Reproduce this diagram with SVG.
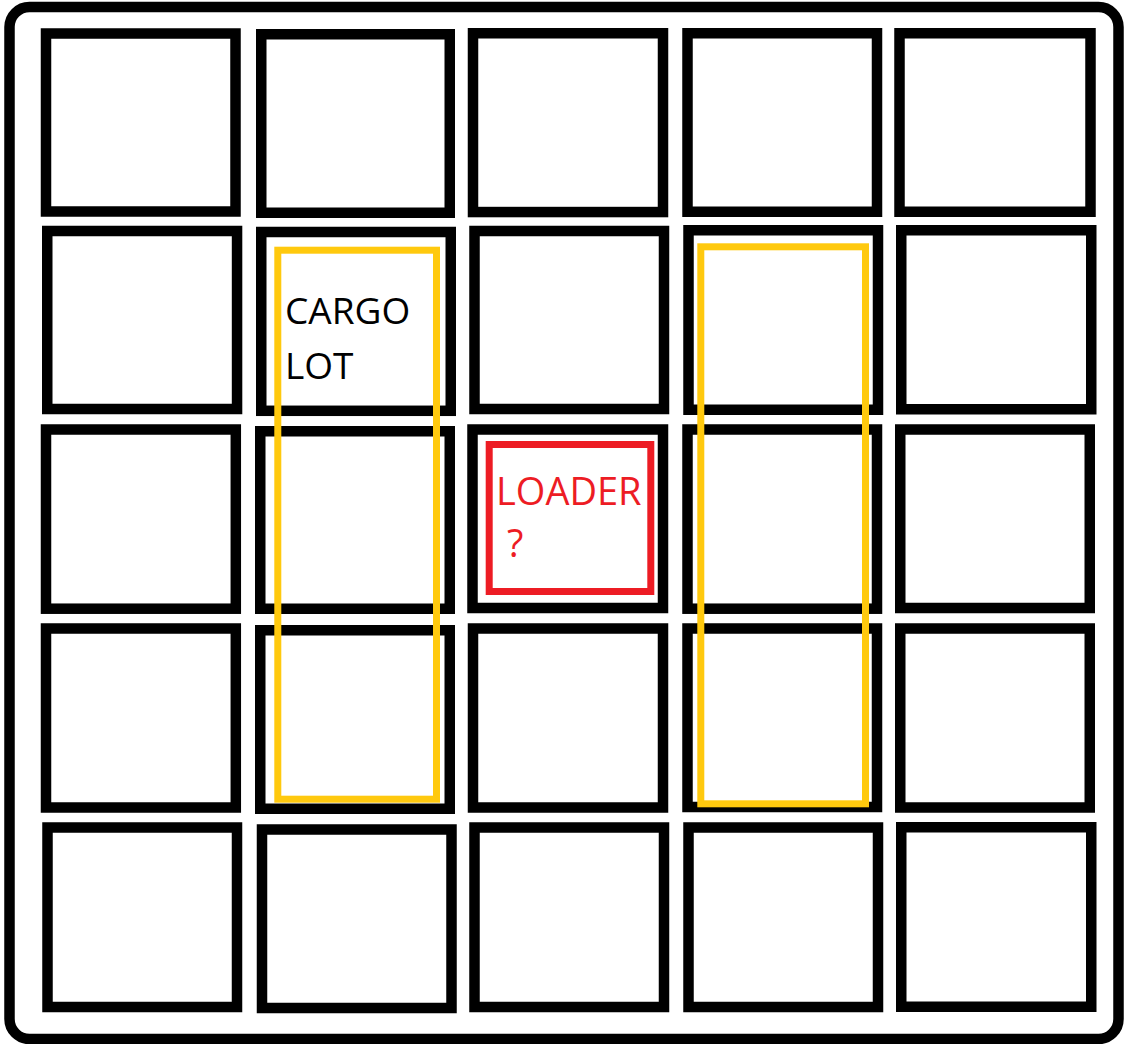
<svg xmlns="http://www.w3.org/2000/svg" width="1125" height="1044" viewBox="0 0 1125 1044">
<style>
.frame{fill:none;stroke:#000;stroke-width:10.5}
.cell{fill:none;stroke:#000;stroke-width:10.5}
.zone{fill:none;stroke:#FFC90E;stroke-width:7}
.loader{fill:none;stroke:#ED1C24;stroke-width:7}
.lbl{font-family:"Open Sans","Noto Sans",sans-serif;font-size:37px;fill:#000}
.red{font-family:"Open Sans","Noto Sans",sans-serif;font-size:38px;fill:#ED1C24}
</style>
<rect width="1125" height="1044" fill="#fff"/>
<rect id="frame" class="frame" x="9.5" y="7" width="1109" height="1032" rx="20"/>
<g id="grid">
<g id="r1">
<rect id="c11" class="cell" x="46" y="33.5" width="189.5" height="178"/>
<rect id="c12" class="cell" x="261.25" y="34.25" width="188.5" height="178.5"/>
<rect id="c13" class="cell" x="473" y="33.25" width="190" height="178.8"/>
<rect id="c14" class="cell" x="687.5" y="33.25" width="189.5" height="178.5"/>
<rect id="c15" class="cell" x="899.5" y="33.25" width="191" height="178.5"/>
</g>
<g id="r2">
<rect id="c21" class="cell" x="47.25" y="231" width="189.8" height="178"/>
<rect id="c22" class="cell" x="261.25" y="232" width="189.5" height="178.8"/>
<rect id="c23" class="cell" x="474.5" y="231" width="189.5" height="178"/>
<rect id="c24" class="cell" x="688.5" y="230.25" width="189.5" height="179.5"/>
<rect id="c25" class="cell" x="901.25" y="230.25" width="190" height="179"/>
</g>
<g id="r3">
<rect id="c31" class="cell" x="46" y="429.5" width="189.8" height="179.2"/>
<rect id="c32" class="cell" x="260.25" y="431.25" width="189.5" height="177.5"/>
<rect id="c33" class="cell" x="472.5" y="429.5" width="190.5" height="178.5"/>
<rect id="c34" class="cell" x="687.5" y="429.5" width="189.5" height="179.2"/>
<rect id="c35" class="cell" x="900.25" y="429.5" width="189.5" height="178.5"/>
</g>
<g id="r4">
<rect id="c41" class="cell" x="46" y="628.5" width="189.8" height="179"/>
<rect id="c42" class="cell" x="260.25" y="630.25" width="189.5" height="178.5"/>
<rect id="c43" class="cell" x="473" y="628.5" width="190" height="179"/>
<rect id="c44" class="cell" x="687.5" y="628.5" width="189.5" height="178.5"/>
<rect id="c45" class="cell" x="900.25" y="628.5" width="189.5" height="179"/>
</g>
<g id="r5">
<rect id="c51" class="cell" x="47.5" y="827.5" width="189.5" height="179.5"/>
<rect id="c52" class="cell" x="262" y="829.5" width="189.5" height="178.5"/>
<rect id="c53" class="cell" x="474.5" y="827.5" width="189.5" height="179.5"/>
<rect id="c54" class="cell" x="688.5" y="827.5" width="189.5" height="179.5"/>
<rect id="c55" class="cell" x="901.25" y="827.25" width="190" height="179.5"/>
</g>
</g>
<g id="cargo-lot">
<rect class="zone" x="277.8" y="250.2" width="158.7" height="549"/>
<text class="lbl" x="285" y="324">CARGO</text>
<text class="lbl" x="285" y="379">LOT</text>
</g>
<g id="zone-right">
<rect class="zone" x="700.8" y="246.8" width="164.7" height="557"/>
</g>
<g id="loader">
<rect class="loader" x="489.2" y="444.5" width="161.6" height="147"/>
<text class="red" x="496" y="505">LOADER</text>
<text class="red" x="507" y="557">?</text>
</g>
<g id="connectors"/>
</svg>
